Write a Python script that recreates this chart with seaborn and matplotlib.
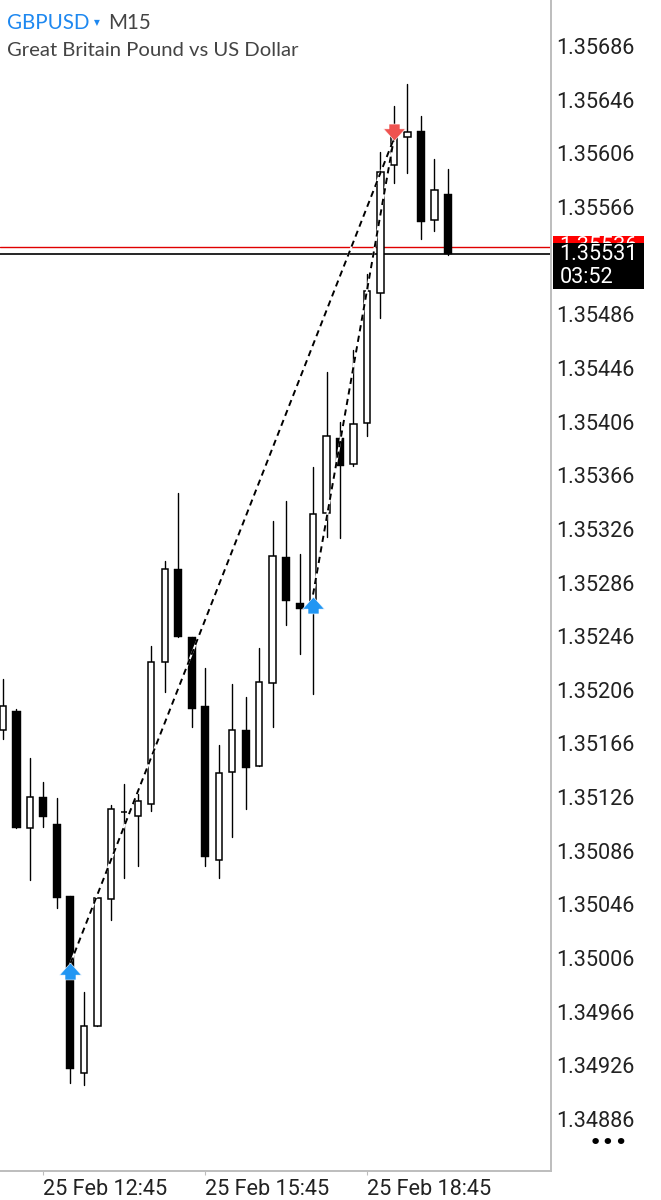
import numpy as np
import pandas as pd
import matplotlib
matplotlib.use("Agg")
import matplotlib.pyplot as plt
from matplotlib.patches import Rectangle
from matplotlib.path import Path
import seaborn as sns

# M15 candles
opens = [1.35176, 1.35190, 1.35103, 1.35126, 1.35106, 1.35052, 1.34920, 1.34955, 1.35050, 1.35115,
         1.35112, 1.35121, 1.35227, 1.35296, 1.35245, 1.35194, 1.35079, 1.35145, 1.35176, 1.35149,
         1.35211, 1.35305, 1.35271, 1.35271, 1.35338, 1.35394, 1.35374, 1.35405, 1.35502, 1.35597,
         1.35618, 1.35623, 1.35556, 1.35576]
highs = [1.35214, 1.35192, 1.35155, 1.35137, 1.35125, 1.35052, 1.34981, 1.35051, 1.35120, 1.35136,
         1.35128, 1.35239, 1.35302, 1.35353, 1.35245, 1.35222, 1.35165, 1.35210, 1.35201, 1.35237,
         1.35332, 1.35347, 1.35307, 1.35372, 1.35443, 1.35406, 1.35459, 1.35516, 1.35607, 1.35641,
         1.35658, 1.35634, 1.35602, 1.35594]
lows = [1.35169, 1.35103, 1.35064, 1.35104, 1.35043, 1.34913, 1.34911, 1.34955, 1.35034, 1.35066,
        1.35075, 1.35116, 1.35204, 1.35245, 1.35178, 1.35075, 1.35066, 1.35096, 1.35117, 1.35149,
        1.35178, 1.35254, 1.35233, 1.35203, 1.35320, 1.35319, 1.35373, 1.35395, 1.35483, 1.35584,
        1.35591, 1.35542, 1.35548, 1.35530]
closes = [1.35194, 1.35103, 1.35126, 1.35111, 1.35051, 1.34923, 1.34955, 1.35051, 1.35117, 1.35115,
          1.35123, 1.35227, 1.35296, 1.35245, 1.35192, 1.35081, 1.35144, 1.35176, 1.35148, 1.35212,
          1.35306, 1.35272, 1.35266, 1.35337, 1.35395, 1.35373, 1.35404, 1.35503, 1.35592, 1.35620,
          1.35622, 1.35555, 1.35579, 1.35531]

price_ticks = [1.34886, 1.34926, 1.34966, 1.35006, 1.35046, 1.35086, 1.35126, 1.35166, 1.35206,
               1.35246, 1.35286, 1.35326, 1.35366, 1.35406, 1.35446, 1.35486, 1.35526, 1.35566,
               1.35606, 1.35646, 1.35686]
time_ticks = [3, 15, 27]
time_labels = ["25 Feb 12:45", "25 Feb 15:45", "25 Feb 18:45"]

bid = 1.35531
ask = 1.35536

# trade markers and the dashed lines joining them
buy_idx = [5, 23]
buy_price = [1.34996, 1.35269]
sell_idx = [29]
sell_price = [1.35622]
trade1_idx = [5, 29]
trade1_price = [1.35002, 1.35617]
trade2_idx = [23, 29]
trade2_price = [1.35277, 1.35617]

W, H = 661, 1200
SPINE = "#bdbdbd"
FONT = "Roboto"
TICK_SIZE = 15.6

df = pd.DataFrame({"i": np.arange(len(opens)), "o": opens, "h": highs, "l": lows, "c": closes})
df["base"] = df[["o", "c"]].min(axis=1)
df["size"] = (df["c"] - df["o"]).abs()
up = df[df["c"] >= df["o"]]
down = df[df["c"] < df["o"]]
wicks = df.melt(id_vars="i", value_vars=["h", "l"], value_name="price")

sns.set_theme(style="white")
plt.rcParams["font.family"] = [FONT, "DejaVu Sans"]

fig = plt.figure(figsize=(W / 100, H / 100), dpi=100, facecolor="white")
ax = fig.add_axes([0, 1 - 1170.5 / H, 550.5 / W, 1170.5 / H])


def px(x, y):
    return x / W, 1 - y / H


def label(x, y, s, **kw):
    kw.setdefault("va", "center")
    kw.setdefault("zorder", 5)
    fig.text(*px(x, y), s, **kw)


ax.axhline(ask, color="#e00000", lw=1.0, zorder=1)
ax.axhline(bid, color="black", lw=1.2, zorder=1)

sns.lineplot(data=wicks, x="i", y="price", units="i", estimator=None, errorbar=None,
             sort=False, color="black", lw=1.0, zorder=2, ax=ax)
sns.barplot(data=up, x="i", y="size", bottom=up["base"].values, native_scale=True, width=0.47,
            color="white", saturation=1, edgecolor="black", linewidth=1.1, errorbar=None,
            zorder=3, ax=ax)
sns.barplot(data=down, x="i", y="size", bottom=down["base"].values, native_scale=True, width=0.6,
            color="black", saturation=1, edgecolor="black", linewidth=0.3, errorbar=None,
            zorder=3, ax=ax)

# white under the dashes, it shows in the gaps where they cross black bodies
for xs, ys in [(trade1_idx, trade1_price), (trade2_idx, trade2_price)]:
    sns.lineplot(x=xs, y=ys, color="white", lw=1.4, errorbar=None, zorder=4, ax=ax)
    sns.lineplot(x=xs, y=ys, color="black", lw=1.4, ls=(0, (3.2, 2.3)), errorbar=None, zorder=5, ax=ax)

arrow = np.array([[0, 0.77], [1, -0.33], [0.5, -0.33], [0.5, -0.77], [-0.5, -0.77], [-0.5, -0.33], [-1, -0.33], [0, 0.77]])
up_arrow = Path(arrow, closed=True)
down_arrow = Path(arrow * [1, -1], closed=True)
sns.scatterplot(x=buy_idx, y=buy_price, marker=up_arrow, s=250, color="#2196f3",
                edgecolor="white", linewidth=0.4, zorder=6, ax=ax)
sns.scatterplot(x=sell_idx, y=sell_price, marker=down_arrow, s=250, color="#ef5350",
                edgecolor="white", linewidth=0.4, zorder=6, ax=ax)

ax.set_xlim(-3 / 13.48, 547.5 / 13.48)
ax.set_ylim(1.348476, 1.357203)
ax.set_xlabel("")
ax.set_ylabel("")
ax.grid(False)
ax.yaxis.tick_right()
ax.set_yticks(price_ticks, [f"{p:.5f}" for p in price_ticks])
ax.set_xticks(time_ticks, time_labels, ha="left")
ax.tick_params(axis="y", which="major", right=True, length=3, width=0.8, color=SPINE, pad=0.8,
               labelsize=TICK_SIZE, labelcolor="#222222")
ax.tick_params(axis="x", which="major", bottom=True, length=3, width=0.8, color=SPINE, pad=3,
               labelsize=TICK_SIZE, labelcolor="#222222")
sns.despine(ax=ax, top=True, left=True, right=False, bottom=False)
for side in ["right", "bottom"]:
    ax.spines[side].set_color(SPINE)
    ax.spines[side].set_linewidth(1.4)

# price boxes on the axis, bid over ask
fig.add_artist(Rectangle(px(553, 258), 91 / W, 22 / H, transform=fig.transFigure, color="#ff0000", lw=0, zorder=2))
label(559.5, 247, f"{ask:.5f}", color="white", fontsize=TICK_SIZE, family=FONT, zorder=3)
fig.add_artist(Rectangle(px(553, 289), 91 / W, 46 / H, transform=fig.transFigure, color="black", lw=0, zorder=4))
label(559.5, 254.5, f"{bid:.5f}", color="white", fontsize=TICK_SIZE, family=FONT)
label(559.5, 277.5, "03:52", color="white", fontsize=TICK_SIZE, family=FONT)

# header
label(7, 23, "GBPUSD", color="#1e88f0", fontsize=14.8, family="Lato")
label(97, 23, "\u25bc", color="#1e88f0", fontsize=5.5, family="DejaVu Sans", ha="center")
label(108, 23, "M15", color="#444444", fontsize=14.8, family="Lato")
label(7, 50, "Great Britain Pound vs US Dollar", color="#444444", fontsize=14.6, family="Lato")

label(608, 1143, "\u2022\u2022\u2022", color="black", fontsize=16, family="DejaVu Sans", ha="center")

fig.savefig("out.png", dpi=100)
